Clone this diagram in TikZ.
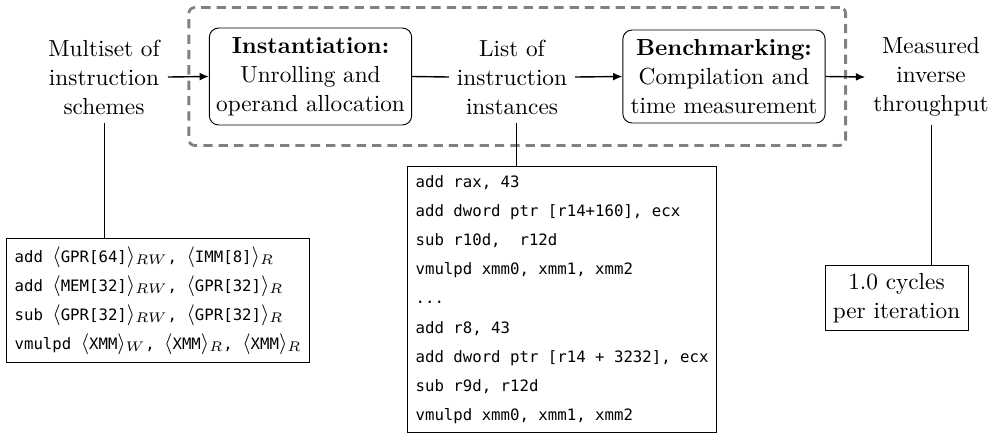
\documentclass[tikz,border=0pt]{standalone}
\usepackage{amsmath}
\usepackage{fontspec}
\setmonofont{DejaVu Sans Mono}[Scale=0.75]
\usetikzlibrary{positioning}
\usetikzlibrary{fit}
\usetikzlibrary{arrows.meta}

\tikzset{
  >={Latex[length=4pt,width=3.4pt]},
  stage/.style={shape=rectangle, draw, rounded corners=4pt, align=center,
    minimum width=87pt, inner sep=2pt, font=\fontsize{10}{12.5}\selectfont},
  data/.style={align=center, font=\fontsize{10}{12.5}\selectfont},
  listing/.style={shape=rectangle, draw, align=left, anchor=north west,
    inner sep=3.5pt, font=\fontsize{9}{12.5}\selectfont\ttfamily},
  result/.style={shape=rectangle, draw, align=center, font=\fontsize{10}{12.5}\selectfont},
  group/.style={shape=rectangle, draw=gray, dash pattern=on 4pt off 2.6pt,
    line width=1.2pt, rounded corners=2.5pt, inner sep=8.6pt},
}

\begin{document}
\begin{tikzpicture}[x=0.43pt, y=-0.43pt]
      \useasboundingbox (0,0) rectangle (1000,435);

      \node[data] (multiset) at (104,77) {Multiset of\\instruction\\schemes};
      \node[stage, minimum height=41.7pt] (inst) at (310.5,76.5) {\textbf{Instantiation:}\\Unrolling and\\operand allocation};
      \node[data] (list) at (512,77) {List of\\instruction\\instances};
      \node[stage, minimum height=40pt] (bench) at (724,76.5) {\textbf{Benchmarking:}\\Compilation and\\time measurement};
      \node[data] (measured) at (931,77) {Measured\\inverse\\throughput};
      \node[group, fit=(inst)(bench)] (frame) {};

      \node[listing] (schemes) at (6,238) {add $\langle\texttt{GPR[64]}\rangle_{RW}$, $\langle\texttt{IMM[8]}\rangle_{R}$\\
        add $\langle\texttt{MEM[32]}\rangle_{RW}$, $\langle\texttt{GPR[32]}\rangle_{R}$\\
        sub $\langle\texttt{GPR[32]}\rangle_{RW}$, $\langle\texttt{GPR[32]}\rangle_{R}$\\
        vmulpd $\langle\texttt{XMM}\rangle_{W}$, $\langle\texttt{XMM}\rangle_{R}$, $\langle\texttt{XMM}\rangle_{R}$};
      \node[listing, inner ysep=4pt] (instances) at (407,166) {add rax, 43\\
        add dword ptr [r14+160], ecx\\
        sub r10d,\ \ r12d\\
        vmulpd xmm0, xmm1, xmm2\\
        ...\\
        add r8, 43\\
        add dword ptr [r14 + 3232], ecx\\
        sub r9d, r12d\\
        vmulpd xmm0, xmm1, xmm2};
      \node[result] (cycles) at (896.5,298) {1.0 cycles\\per iteration};

      \draw[->, semithick] (multiset.east) -- (inst.west);
      \draw[semithick] (inst.east) -- (list.west);
      \draw[->, semithick] (list.east) -- (bench.west);
      \draw[->, semithick] (bench.east) -- (measured.west);

      \draw (multiset.south) -- (multiset.south |- schemes.north);
      \draw ([xshift=2pt]list.south) -- ([xshift=2pt]list.south |- instances.north);
      \draw (measured.south) -- (measured.south |- cycles.north);
    \end{tikzpicture}
\end{document}
